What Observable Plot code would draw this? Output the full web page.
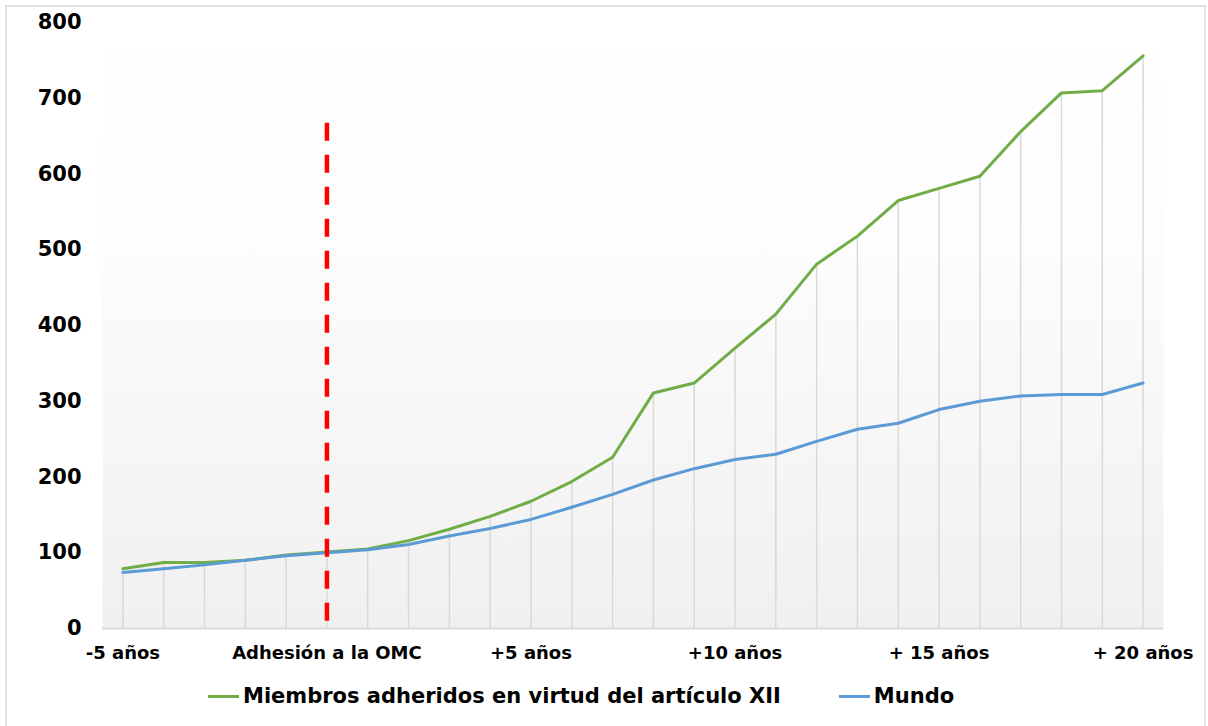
<!DOCTYPE html>
<html>
<head>
<meta charset="utf-8">
<script src="https://cdn.jsdelivr.net/npm/d3@7"></script>
<script src="https://cdn.jsdelivr.net/npm/@observablehq/plot@0.6"></script>
<style>
  html, body { margin: 0; padding: 0; background: #fff; overflow: hidden; }
  #wrap { position: relative; width: 1208px; height: 726px; font-family: "DejaVu Sans", Verdana, sans-serif; }
  #border { position: absolute; left: 5px; top: 5px; width: 1201px; height: 740px; box-sizing: border-box; border: 2px solid #e2e2e2; pointer-events: none; }
  #chart { position: absolute; left: 0; top: 0; }
  #legend { position: absolute; left: 208px; top: 684px; height: 24px; line-height: 24px; display: flex; align-items: center; font-size: 21px; font-weight: bold; color: #000; white-space: nowrap; }
  .sw { display: inline-block; width: 31px; height: 3px; margin-right: 4px; }
</style>
</head>
<body>
<div id="wrap">
  <div id="chart"></div>
  <div id="legend"></div>
  <div id="border"></div>
</div>
<script>
// Years relative to WTO accession
const years = d3.range(-5, 21);
// Miembros adheridos en virtud del artículo XII
const article12 = [79, 87, 87, 90, 97, 101, 105, 116, 131, 148, 168, 194, 226, 311, 324, 370, 415, 481, 518, 565, 581, 597, 656, 707, 710, 756];
// Mundo
const world = [74, 79, 84, 90, 96, 100, 104, 111, 122, 132, 144, 160, 177, 196, 211, 223, 230, 247, 263, 271, 289, 300, 307, 309, 309, 324];
const tickYears = [-5, 0, 5, 10, 15, 20];
const tickLabels = ["-5 años", "Adhesión a la OMC", "+5 años", "+10 años", "+ 15 años", "+ 20 años"];
const seriesNames = ["Miembros adheridos en virtud del artículo XII", "Mundo"];
const seriesColors = ["#70AD47", "#5B9BD5"];
const accessionYear = 0;
const markerTop = 667;

const rows = years.map((y, i) => ({year: y, a: article12[i], w: world[i]}));

const gradient = () => {
  const defs = d3.create("svg:defs");
  const g = defs.append("linearGradient").attr("id", "bgGrad").attr("x1", 0).attr("y1", 0).attr("x2", 0).attr("y2", 1);
  g.append("stop").attr("offset", "0").attr("stop-color", "#ffffff");
  g.append("stop").attr("offset", "0.35").attr("stop-color", "#fdfdfd");
  g.append("stop").attr("offset", "1").attr("stop-color", "#f0f0f0");
  return defs.node();
};

const chart = Plot.plot({
  width: 1208,
  height: 670,
  marginLeft: 102,
  marginRight: 45,
  marginTop: 22,
  marginBottom: 42,
  style: {fontFamily: "'DejaVu Sans', Verdana, sans-serif", fontWeight: "bold", color: "#000", background: "transparent"},
  x: {domain: [-5.5, 20.5]},
  y: {domain: [0, 800]},
  marks: [
    gradient,
    Plot.frame({fill: "url(#bgGrad)", stroke: null}),
    Plot.ruleX(rows, {x: "year", y1: 0, y2: "a", stroke: "#d9d9d9", strokeWidth: 1.5}),
    Plot.ruleY([0], {stroke: "#d9d9d9", strokeWidth: 2}),
    Plot.axisY({ticks: d3.range(0, 801, 100), tickSize: 0, tickPadding: 21, fontSize: 21, label: null, tickFormat: d => d}),
    Plot.axisX({ticks: tickYears, tickSize: 0, tickPadding: 18, fontSize: 18, label: null, tickFormat: d => tickLabels[tickYears.indexOf(d)]}),
    Plot.line(rows, {x: "year", y: "a", stroke: seriesColors[0], strokeWidth: 3}),
    Plot.line(rows, {x: "year", y: "w", stroke: seriesColors[1], strokeWidth: 3}),
    Plot.ruleX([accessionYear], {y1: markerTop, y2: 0, stroke: "#ff0000", strokeWidth: 4.5, strokeDasharray: "18,14"})
  ]
});
document.getElementById("chart").appendChild(chart);

const legend = document.getElementById("legend");
seriesNames.forEach((name, i) => {
  const item = document.createElement("span");
  item.style.display = "inline-flex";
  item.style.alignItems = "center";
  if (i > 0) item.style.marginLeft = "58px";
  const sw = document.createElement("span");
  sw.className = "sw";
  sw.style.background = seriesColors[i];
  const t = document.createElement("span");
  t.textContent = name;
  item.appendChild(sw);
  item.appendChild(t);
  legend.appendChild(item);
});
</script>
</body>
</html>
